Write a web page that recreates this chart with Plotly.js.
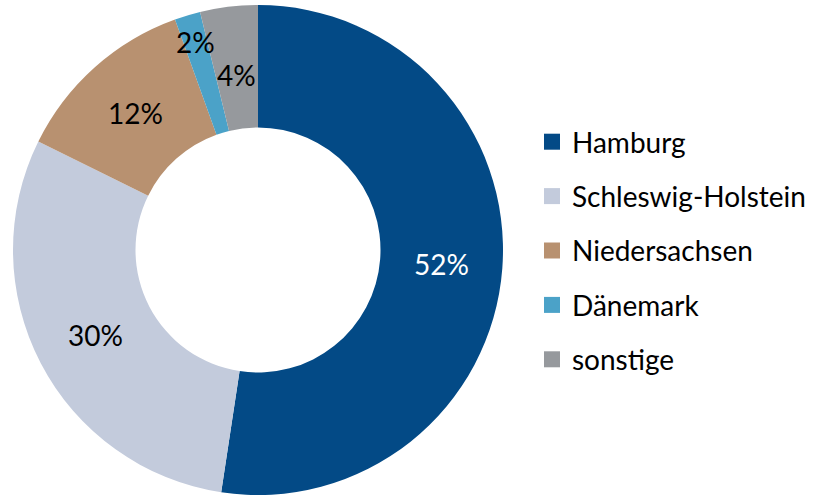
<!DOCTYPE html>
<html>
<head>
<meta charset="utf-8">
<script src="https://cdn.plot.ly/plotly-3.0.1.min.js"></script>
<style>html,body{margin:0;padding:0;background:#fff;}#chart{width:816px;height:495px;}</style>
</head>
<body>
<div id="chart"></div>
<script>
const categories = ["Hamburg", "Schleswig-Holstein", "Niedersachsen", "Dänemark", "sonstige"];
const shares = [52.4, 29.9, 12.2, 1.7, 3.8];
const colors = ["#034A86", "#C3CBDC", "#B89170", "#4BA2C8", "#96999D"];
const textColors = ["#FFFFFF", "#000000", "#000000", "#000000", "#000000"];
// radial placement of each label inside the ring (0 = hole edge, 1 = outer edge)
const labelRadial = [0.5, 0.5, 0.5, 0.77, 0.44];

const FONT = "Lato, 'Liberation Sans', sans-serif";
const W = 816, H = 495;
// pie geometry in pixels (domain)
const dom = {x0: 13, x1: 503, y0: 5, y1: 495};
const cx = (dom.x0 + dom.x1) / 2, cy = (dom.y0 + dom.y1) / 2;
const R = Math.min(dom.x1 - dom.x0, dom.y1 - dom.y0) / 2;
const HOLE = 0.5;

const pie = {
  type: "pie",
  labels: categories,
  values: shares,
  textinfo: "none",
  hole: HOLE,
  sort: false,
  direction: "clockwise",
  rotation: 0,
  marker: {colors: colors, line: {width: 0}},
  domain: {x: [dom.x0 / W, dom.x1 / W], y: [1 - dom.y1 / H, 1 - dom.y0 / H]},
  showlegend: false,
  hoverinfo: "label+percent"
};

// percentage labels placed at each slice's mid-angle
const total = shares.reduce((a, b) => a + b, 0);
let cum = 0;
const annotations = shares.map((v, i) => {
  const mid = (cum + v / 2) / total;
  cum += v;
  const ang = mid * 2 * Math.PI; // clockwise from 12 o'clock
  const r = R * (HOLE + (1 - HOLE) * labelRadial[i]);
  const px = cx + r * Math.sin(ang);
  const py = cy - r * Math.cos(ang);
  return {
    xref: "paper", yref: "paper",
    x: px / W, y: 1 - py / H,
    xanchor: "center", yanchor: "middle",
    text: Math.round(v / total * 100) + "%",
    showarrow: false,
    font: {family: FONT, size: 28, color: textColors[i]}
  };
});

const legendTraces = categories.map((c, i) => ({
  type: "scatter",
  mode: "markers",
  x: [null], y: [null],
  name: c,
  legendgroup: c,
  marker: {symbol: "square", size: 16, color: colors[i]},
  showlegend: true,
  hoverinfo: "skip"
}));

const layout = {
  width: W, height: H,
  margin: {l: 0, r: 0, t: 0, b: 0},
  paper_bgcolor: "#ffffff",
  plot_bgcolor: "#ffffff",
  font: {family: FONT, color: "#000000"},
  xaxis: {visible: false},
  yaxis: {visible: false},
  annotations: annotations,
  showlegend: true,
  legend: {
    x: 532 / W, xanchor: "left",
    y: 1 - 117 / H, yanchor: "top",
    font: {family: FONT, size: 28, color: "#000000"},
    traceorder: "grouped",
    tracegroupgap: 15,
    bgcolor: "rgba(0,0,0,0)",
    borderwidth: 0
  }
};

Plotly.newPlot("chart", [pie, ...legendTraces], layout, {displayModeBar: false, staticPlot: true});
</script>
</body>
</html>
